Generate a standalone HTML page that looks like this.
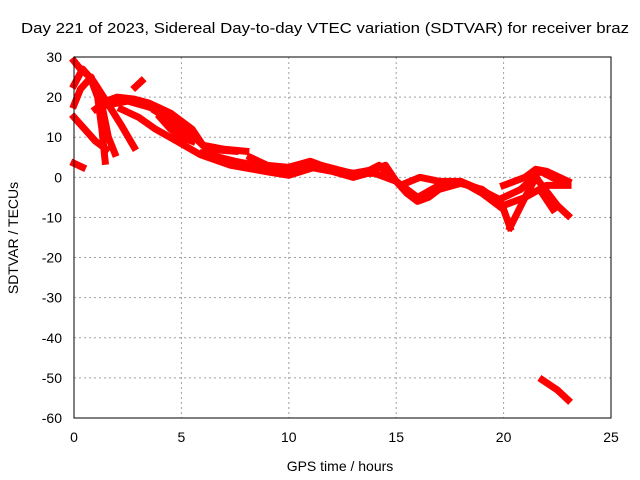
<!DOCTYPE html>
<html><head><meta charset="utf-8"><style>
body{margin:0;background:#fff}
svg{display:block;font-family:"Liberation Sans",sans-serif}
</style></head><body>
<svg id="chart" width="640" height="480">
<rect width="640" height="480" fill="#fff"/>
<g id="grid"></g>
<g id="series"></g>
<g id="axes"></g>
<text x="325" y="33" font-size="15" text-anchor="middle" textLength="608" lengthAdjust="spacingAndGlyphs">Day 221 of 2023, Sidereal Day-to-day VTEC variation (SDTVAR) for receiver braz</text>
<text x="340" y="471" font-size="14" text-anchor="middle">GPS time / hours</text>
<text x="18" y="238" font-size="14" text-anchor="middle" transform="rotate(-90 18 238)">SDTVAR / TECUs</text>
</svg>
<script>
const xTicks=[0,5,10,15,20,25];
const yTicks=[30,20,10,0,-10,-20,-30,-40,-50,-60];
const trackA=[[0,29],[0.3,27],[0.75,25],[1.1,20],[1.3,12],[1.45,4]];
const trackB=[[0,23],[0.4,27],[0.9,24],[1.5,19],[2.2,13],[2.8,7.5]];
const trackC=[[0,15],[0.5,12],[1,9],[1.5,7]];
const trackD=[[0,3.5],[0.4,2.5]];
const trackE=[[0,18],[0.3,22],[0.8,25],[1.3,18],[1.6,10],[1.9,6]];
const trackF=[[1,17],[1.5,19],[2,20],[2.8,19.5],[3.5,18.5],[4.5,16],[5,14],[5.5,12],[6,8],[7,7],[8,6.5]];
const trackF2=[[1.5,18],[2.5,19],[3.5,17.5],[4.5,15],[5,12],[5.6,10],[6.2,7],[7.5,6.5]];
const trackG=[[2.2,17],[3,15],[3.8,12],[4.7,9.3],[5.9,5.6],[7.3,3],[9.1,1.3],[10,0.5],[11.5,3],[13.3,0.5],[14.2,3],[15.2,-2],[16.1,0],[17,-1],[18,-1],[18.9,-3],[19.8,-5.5],[20.8,-3],[21.7,1.5],[22.8,-1.5]];
const trackG2=[[6,6],[7.5,4],[9,2.5],[10,1.5],[11,2.5],[12,1.5],[13,0],[14,1.5]];
const trackH=[[8.2,5],[9,3],[10,2.5],[11,4],[12,2],[13,1],[14,1],[15,-1],[16,-5],[17,-2],[18,-1],[19,-4],[20,-8],[20.3,-12.5]];
const trackI=[[10,2],[11,3.5],[12,2],[13,1],[14,2],[14.5,3],[15,-1],[15.5,-4],[16,-6],[16.5,-5],[17,-3],[18,-1.5],[19,-3],[20,-7],[21,-5],[22,-2],[23,-2]];
const trackJ=[[20.3,-12.5],[21,-5],[21.5,0],[22.5,-7],[23,-9.5]];
const trackK=[[20,-2],[21,0],[21.5,2],[22,1.5],[23,-1]];
const trackL=[[21.8,-4],[22.3,-8]];
const trackM=[[21.8,-50.5],[22.5,-53],[23,-55.5]];
const trackN=[[2.85,22.5],[3.15,24]];
const trackO=[[4,15],[4.5,12],[5,10],[5.5,9]];
const trackP=[[3.8,16.5],[4.4,14.5],[5,12],[5.5,11]];
const tracks=[trackA,trackB,trackC,trackD,trackE,trackF,trackF2,trackG,trackG2,trackH,trackI,trackJ,trackK,trackL,trackM,trackN,trackO,trackP];
const X0=74,X1=611,Y0=57,Y1=418;
const xs=h=>X0+h/25*(X1-X0);
const ys=v=>Y0+(30-v)/90*(Y1-Y0);
const NS="http://www.w3.org/2000/svg";
function mk(t,a,p){const e=document.createElementNS(NS,t);for(const k in a)e.setAttribute(k,a[k]);p.appendChild(e);return e;}
const grid=document.getElementById('grid'),axes=document.getElementById('axes'),ser=document.getElementById('series');
xTicks.forEach(t=>{
 if(t>0&&t<25){const l=mk('line',{x1:xs(t),x2:xs(t),y1:Y0,y2:Y1,stroke:'#a0a0a0','stroke-dasharray':'2,3'},grid);
 
 }
 const tx=mk('text',{x:xs(t),y:Y1+24,'font-size':14,'text-anchor':'middle'},axes);tx.textContent=t;
 
 
});
yTicks.forEach(t=>{
 if(t>-60&&t<30){const l=mk('line',{x1:X0,x2:X1,y1:ys(t),y2:ys(t),stroke:'#a0a0a0','stroke-dasharray':'2,3'},grid);
 
 }
 const tx=mk('text',{x:X0-12,y:ys(t)+5,'font-size':14,'text-anchor':'end'},axes);tx.textContent=t;
 
 
});
const fr=mk('rect',{x:X0,y:Y0,width:X1-X0,height:Y1-Y0,fill:'none',stroke:'#000','stroke-width':1},axes);


tracks.forEach(tr=>{
 const p=mk('polyline',{points:tr.map(d=>xs(d[0])+','+ys(d[1])).join(' '),fill:'none',stroke:'#ff0000','stroke-width':7,'stroke-linejoin':'round','stroke-linecap':'square'},ser);
 
 
});
</script>
</body></html>
